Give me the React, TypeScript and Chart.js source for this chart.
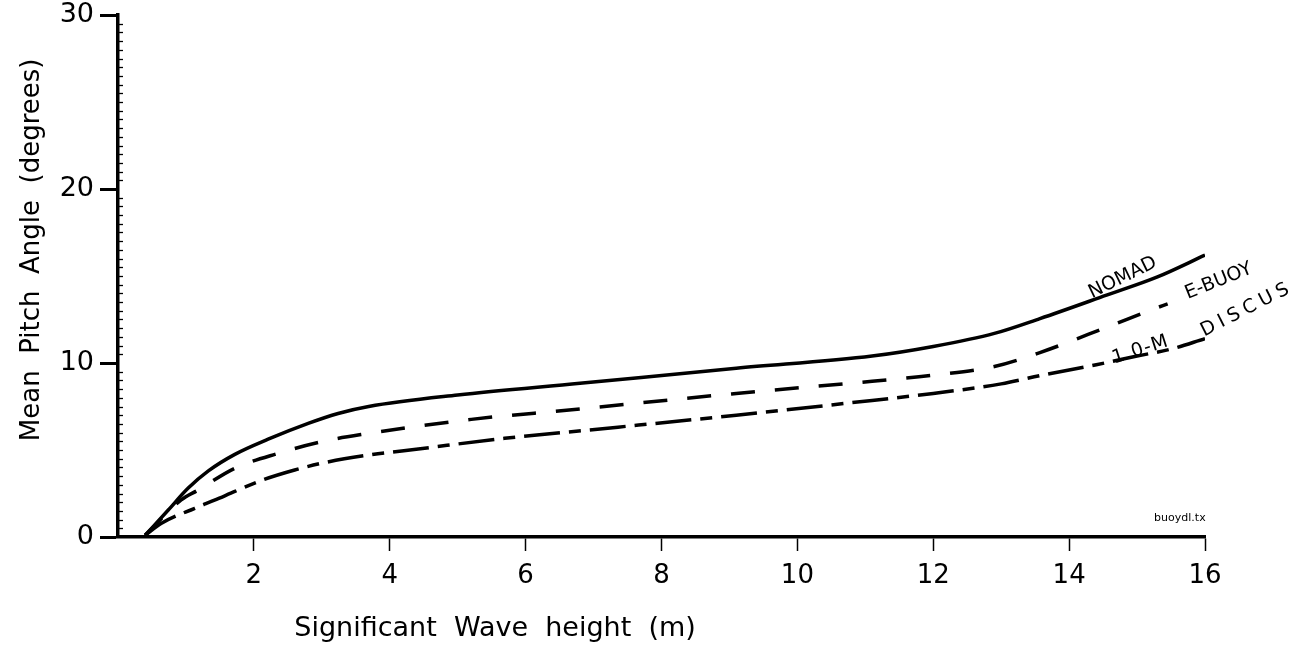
import { useEffect, useRef } from 'react';
import { Chart, registerables } from 'chart.js';

Chart.register(...registerables);

// Significant wave height (m) / mean pitch angle (degrees)
const nomadX = [0.4, 0.74, 1.03, 1.33, 1.72, 2.21, 2.8, 3.24, 3.69, 5.0, 6.8, 9.1, 11.1, 12.0, 12.9, 13.57, 14.55, 15.3, 16.0];
const nomadY = [0.1, 1.55, 2.8, 3.8, 4.75, 5.62, 6.53, 7.1, 7.5, 8.16, 8.83, 9.7, 10.4, 10.95, 11.7, 12.55, 13.9, 14.95, 16.2];

const eBuoyX = [0.4, 0.93, 1.18, 1.72, 2.36, 3.0, 3.6, 5.2, 6.64, 9.1, 11.1, 12.0, 12.9, 13.57, 14.55, 15.24, 15.45];
const eBuoyY = [0.1, 2.13, 2.7, 3.95, 4.81, 5.48, 5.9, 6.76, 7.3, 8.25, 8.95, 9.3, 9.8, 10.6, 12.05, 13.1, 13.4];

const discusX = [0.4, 0.64, 1.13, 1.43, 1.72, 2.11, 2.6, 3.0, 3.69, 4.42, 5.69, 6.78, 9.1, 11.1, 12.0, 13.0, 13.6, 14.4, 15.0, 15.5, 16.0];
const discusY = [0.1, 0.79, 1.65, 2.13, 2.62, 3.25, 3.85, 4.24, 4.71, 5.06, 5.67, 6.09, 7.0, 7.85, 8.25, 8.8, 9.3, 9.9, 10.4, 10.8, 11.4];

const xTickValues = [2, 4, 6, 8, 10, 12, 14, 16];
const yTickValues = [0, 10, 20, 30];

const seriesLabels = ['NOMAD', 'E-BUOY', '1 0-M', 'DISCUS'];
const labelX = [14.79, 16.2, 15.05, 16.62];
const labelY = [14.9, 14.7, 10.75, 13.1];
const labelAngle = [-26, -22, -18, -27];
const labelSpacing = [0, 0, 1, 5];

const xTitle = 'Significant  Wave  height  (m)';
const yTitle = 'Mean  Pitch  Angle  (degrees)';
const fileTag = 'buoydl.tx';

const FONT = '"DejaVu Sans", Verdana, sans-serif';

export default function App() {
  const ref = useRef<HTMLCanvasElement>(null);

  useEffect(() => {
    document.body.style.margin = '0';
    const pts = (xs: number[], ys: number[]) => xs.map((x, i) => ({ x, y: ys[i] }));

    const extras = {
      id: 'extras',
      afterDraw(chart: any) {
        const { ctx, chartArea } = chart;
        const x = chart.scales.x;
        const y = chart.scales.y;
        ctx.save();
        ctx.strokeStyle = '#000';
        ctx.fillStyle = '#000';
        // minor ticks on y axis
        ctx.lineWidth = 1.3;
        for (let v = 0.5; v < 30; v += 0.5) {
          if (v % 10 === 0) continue;
          const py = Math.round(y.getPixelForValue(v)) + 0.5;
          ctx.beginPath();
          ctx.moveTo(chartArea.left - 1, py);
          ctx.lineTo(chartArea.left + 5, py);
          ctx.stroke();
        }
        // axis titles
        ctx.font = `27px ${FONT}`;
        ctx.textAlign = 'center';
        ctx.textBaseline = 'middle';
        ctx.fillText(xTitle, x.getPixelForValue(5.55), chartArea.bottom + 92);
        ctx.font = `26px ${FONT}`;
        ctx.save();
        ctx.translate(32, y.getPixelForValue(16.5));
        ctx.rotate(-Math.PI / 2);
        ctx.fillText(yTitle, 0, 0);
        ctx.restore();
        // series labels
        ctx.font = `19px ${FONT}`;
        seriesLabels.forEach((t, i) => {
          (ctx as any).letterSpacing = `${labelSpacing[i]}px`;
          ctx.save();
          ctx.translate(x.getPixelForValue(labelX[i]), y.getPixelForValue(labelY[i]));
          ctx.rotate((labelAngle[i] * Math.PI) / 180);
          ctx.fillText(t, 0, 0);
          ctx.restore();
        });
        (ctx as any).letterSpacing = '0px';
        ctx.font = `11px ${FONT}`;
        ctx.fillText(fileTag, x.getPixelForValue(15.63), y.getPixelForValue(1.1));
        ctx.restore();
      },
    };

    const chart = new Chart(ref.current as HTMLCanvasElement, {
      type: 'line',
      data: {
        datasets: [
          {
            label: 'NOMAD',
            data: pts(nomadX, nomadY),
            borderColor: '#000',
            borderWidth: 3.5,
            pointRadius: 0,
            tension: 0.4,
            cubicInterpolationMode: 'monotone',
          },
          {
            label: 'E-BUOY',
            data: pts(eBuoyX, eBuoyY),
            borderColor: '#000',
            borderWidth: 3.5,
            borderDash: [24, 20],
            pointRadius: 0,
            tension: 0.4,
            cubicInterpolationMode: 'monotone',
          },
          {
            label: '10-M DISCUS',
            data: pts(discusX, discusY),
            borderColor: '#000',
            borderWidth: 3.5,
            borderDash: [36, 9, 12, 9],
            pointRadius: 0,
            tension: 0.4,
            cubicInterpolationMode: 'monotone',
          },
        ],
      },
      options: {
        responsive: false,
        animation: false,
        layout: { padding: { top: 15, right: 87, left: 0, bottom: 0 } },
        plugins: { legend: { display: false }, tooltip: { enabled: false } },
        scales: {
          x: {
            type: 'linear',
            min: 0,
            max: 16,
            afterBuildTicks: (s: any) => {
              s.ticks = xTickValues.map((v) => ({ value: v }));
            },
            afterFit: (s: any) => {
              s.height = 110;
              s.paddingLeft = 0;
              s.paddingRight = 0;
            },
            border: { display: true, width: 3.5, color: '#000' },
            grid: {
              drawOnChartArea: false,
              drawTicks: true,
              tickLength: 14,
              tickWidth: 1.5,
              tickColor: '#000',
            },
            ticks: {
              color: '#000',
              font: { family: FONT, size: 26 },
              padding: 10,
              maxRotation: 0,
              autoSkip: false,
              callback: (v: any) => String(v),
            },
          },
          y: {
            type: 'linear',
            min: 0,
            max: 30,
            afterBuildTicks: (s: any) => {
              s.ticks = yTickValues.map((v) => ({ value: v }));
            },
            afterFit: (s: any) => {
              s.width = 118;
              s.paddingTop = 0;
              s.paddingBottom = 0;
            },
            border: { display: true, width: 3.5, color: '#000' },
            grid: {
              drawOnChartArea: false,
              drawTicks: true,
              tickLength: 18,
              tickWidth: 3,
              tickColor: '#000',
            },
            ticks: {
              color: '#000',
              font: { family: FONT, size: 27 },
              padding: 6,
              autoSkip: false,
              callback: (v: any) => String(v),
            },
          },
        },
      },
      plugins: [extras],
    } as any);

    return () => chart.destroy();
  }, []);

  return <canvas ref={ref} width={1292} height={647} style={{ display: 'block' }} />;
}
